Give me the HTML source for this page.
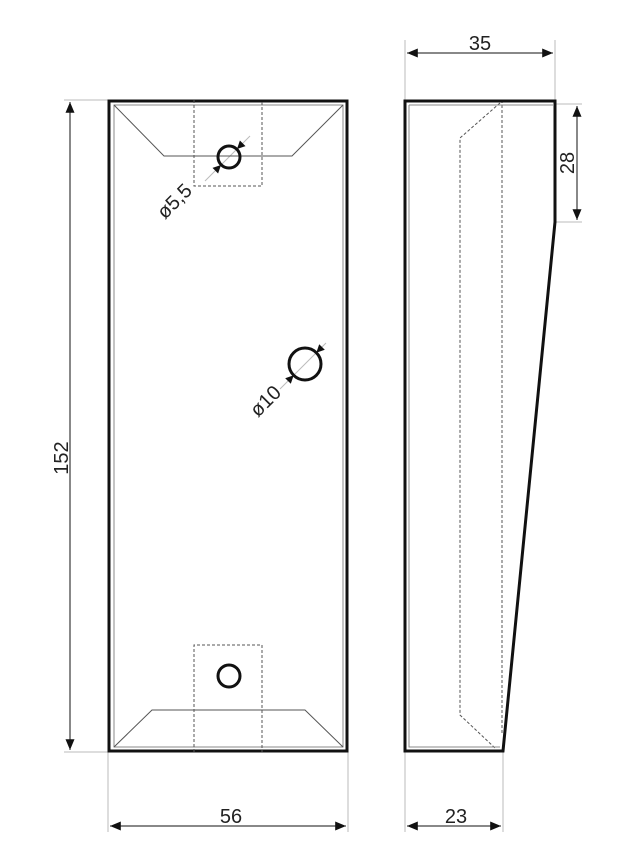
<!DOCTYPE html>
<html><head><style>html,body{margin:0;padding:0;background:#fff}svg{display:block}</style></head><body>
<svg width="635" height="862" viewBox="0 0 635 862" xmlns="http://www.w3.org/2000/svg" font-family="Liberation Sans, sans-serif">
<defs>
<marker id="a" viewBox="0 0 12 10" refX="12" refY="5" markerWidth="12" markerHeight="9" markerUnits="userSpaceOnUse" orient="auto-start-reverse"><path d="M0,0L12,5L0,10z" fill="#111"/></marker>
</defs>
<g stroke="#bbb" stroke-width="1" fill="none">
<line x1="64" y1="100" x2="108" y2="100"/><line x1="64" y1="752" x2="108" y2="752"/>
<line x1="108" y1="752" x2="108" y2="832"/><line x1="348" y1="752" x2="348" y2="832"/>
<line x1="405" y1="752" x2="405" y2="832"/><line x1="503" y1="752" x2="503" y2="832"/>
<line x1="405" y1="40" x2="405" y2="100"/><line x1="555" y1="40" x2="555" y2="100"/>
<line x1="555" y1="104" x2="582" y2="104"/><line x1="555" y1="222" x2="582" y2="222"/>
<line x1="205" y1="181" x2="250" y2="136"/><line x1="280" y1="389" x2="326" y2="343"/>
</g>
<g stroke="#111" stroke-width="1" fill="none" marker-start="url(#a)" marker-end="url(#a)">
<line x1="70" y1="102" x2="70" y2="750"/>
<line x1="110" y1="826" x2="346" y2="826"/>
<line x1="407" y1="826" x2="501" y2="826"/>
<line x1="407" y1="53" x2="553" y2="53"/>
<line x1="577" y1="106" x2="577" y2="220"/>
</g>
<g fill="#111">
<path d="M221,165L218.1,173.5L212.5,167.9z"/><path d="M237,149L245.5,146.1L239.9,140.5z"/>
<path d="M293.7,375.3L290.8,383.8L285.2,378.2z"/><path d="M316.3,352.7L324.8,349.8L319.2,344.2z"/>
</g>
<rect x="109" y="101" width="238" height="650" fill="none" stroke="#111" stroke-width="3"/>
<rect x="114" y="105" width="229" height="642" fill="none" stroke="#888" stroke-width="1"/>
<polyline points="114,105 164,156 292,156 343,105" fill="none" stroke="#555" stroke-width="1"/>
<polyline points="114,747 152,710 305,710 343,747" fill="none" stroke="#555" stroke-width="1"/>
<g stroke="#555" stroke-dasharray="3,2" fill="none" stroke-width="1">
<polyline points="194,100 194,186 262,186 262,100"/>
<polyline points="194,752 194,645 262,645 262,752"/>
<line x1="502" y1="100" x2="502" y2="735"/>
<polyline points="500,103 460,138 460,715 495,748"/>
</g>
<g fill="none" stroke="#111" stroke-width="3">
<circle cx="229" cy="157" r="11"/><circle cx="305" cy="364" r="16"/><circle cx="229" cy="676" r="11"/>
</g>
<polygon points="405,101 555,101 555,222 503,751 405,751" fill="none" stroke="#111" stroke-width="3"/>
<polyline points="409,105 409,747 500,747" fill="none" stroke="#888" stroke-width="1"/>
<line x1="409" y1="105" x2="553" y2="105" stroke="#888"/>
<g font-size="20" fill="#222">
<text x="231" y="823" text-anchor="middle">56</text>
<text x="456" y="823" text-anchor="middle">23</text>
<text x="480" y="50" text-anchor="middle">35</text>
<text transform="translate(574,163) rotate(-90)" text-anchor="middle">28</text>
<text transform="translate(68,458) rotate(-90)" text-anchor="middle">152</text>
<text transform="translate(165,220) rotate(-45)">ø5,5</text>
<text transform="translate(258,418) rotate(-45)">ø10</text>
</g>
</svg>
</body></html>
